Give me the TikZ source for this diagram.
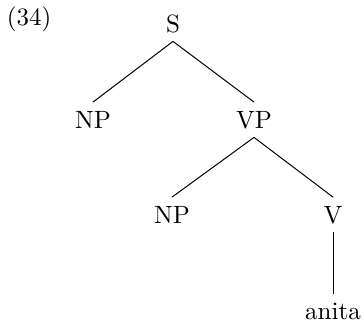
\documentclass[tikz,border=0pt]{standalone}

\begin{document}
\begin{tikzpicture}[x=0.4pt,y=-0.4pt]
  \useasboundingbox (0,0) rectangle (364,321);

  \node[anchor=base] (num) at (29,25) {(34)};

  \node[anchor=base] (s)     at (173,32)  {S};
  \node[anchor=base] (np)    at (93,128)  {NP};
  \node[anchor=base] (vp)    at (254,128) {VP};
  \node[anchor=base] (npobj) at (172,223) {NP};
  \node[anchor=base] (v)     at (333,223) {V};
  \node[anchor=base] (word)  at (333,319) {anita};

  \draw (s.south) -- (np.north);
  \draw (s.south) -- (vp.north);
  \draw (vp.south) -- (npobj.north);
  \draw (vp.south) -- (v.north);
  \draw (v.south) -- (word.north);
\end{tikzpicture}
\end{document}
